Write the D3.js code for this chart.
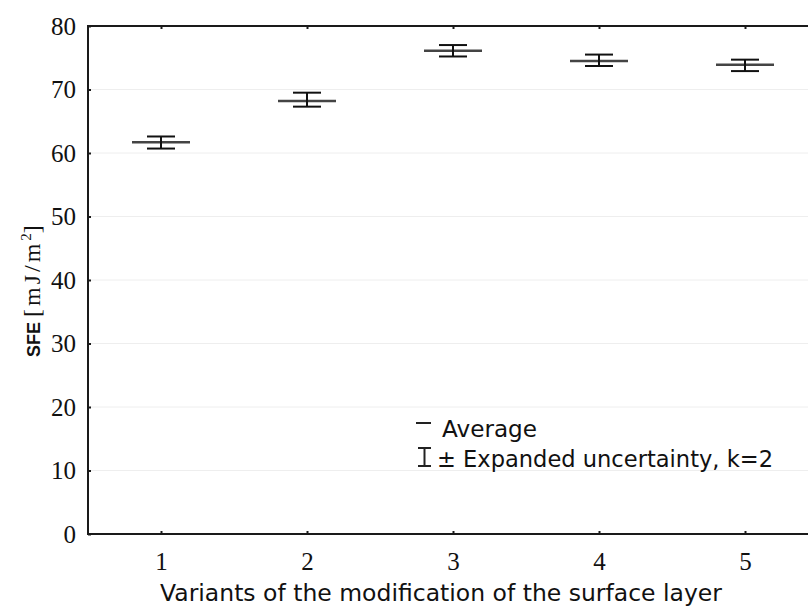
<!DOCTYPE html>
<html>
<head>
<meta charset="utf-8">
<script src="https://cdn.jsdelivr.net/npm/d3@7"></script>
<style>
  body { margin: 0; background: #fff; }
  svg { display: block; }
</style>
</head>
<body>
<div id="chart"></div>
<script>
var variants = ["1", "2", "3", "4", "5"]
var average = [61.7, 68.2, 76.1, 74.5, 73.9]
var lowerU = [60.7, 67.3, 75.2, 73.7, 72.9]
var upperU = [62.6, 69.5, 77.0, 75.5, 74.7]
var yTicks = [0, 10, 20, 30, 40, 50, 60, 70, 80]

var w = 808
var h = 607
// plot box (right edge runs past the picture, as in the original crop)
var pLeft = 88, pTop = 26, pBottom = 534, pRight = 818

var svg = d3.select('#chart').append('svg')
    .attr('width', w)
    .attr('height', h)

var x = d3.scaleLinear().domain([0.5, 5.5]).range([pLeft, pRight])
var y = d3.scaleLinear().domain([0, 80]).range([pBottom, pTop])

// light grid
svg.append('g').selectAll('line')
    .data(yTicks.filter(function(d){ return d > 0 && d < 80 }))
    .enter().append('line')
    .attr('x1', pLeft).attr('x2', pRight)
    .attr('y1', function(d){ return y(d) }).attr('y2', function(d){ return y(d) })
    .attr('stroke', '#eeeeee')
    .attr('stroke-width', 1)

// frame
svg.append('rect')
    .attr('x', pLeft).attr('y', pTop)
    .attr('width', pRight - pLeft).attr('height', pBottom - pTop)
    .attr('fill', 'none')
    .attr('stroke', '#1a1a1a')
    .attr('stroke-width', 2)

// axes (ticks inward)
var serif = '"Liberation Serif", "Times New Roman", serif'
var yAxis = d3.axisLeft(y).tickValues(yTicks).tickSizeInner(-3).tickSizeOuter(0).tickPadding(12)
var gy = svg.append('g').attr('transform', 'translate(' + pLeft + ',0)').call(yAxis)
gy.select('.domain').remove()
gy.selectAll('.tick line').attr('stroke', '#1a1a1a').attr('stroke-width', 2)
gy.selectAll('.tick text')
    .attr('font-family', serif)
    .attr('font-size', 25)
    .attr('fill', '#111')

var xAxis = d3.axisBottom(x).tickValues([1, 2, 3, 4, 5])
    .tickFormat(function(d, i){ return variants[i] })
    .tickSizeInner(-3).tickSizeOuter(0).tickPadding(18)
var gx = svg.append('g').attr('transform', 'translate(0,' + pBottom + ')').call(xAxis)
gx.select('.domain').remove()
gx.selectAll('.tick line').attr('stroke', '#1a1a1a').attr('stroke-width', 2)
gx.selectAll('.tick text')
    .attr('font-family', serif)
    .attr('font-size', 25)
    .attr('fill', '#111')

var xTop = d3.axisTop(x).tickValues([1, 2, 3, 4, 5]).tickSizeInner(-3).tickSizeOuter(0).tickFormat('')
var gt = svg.append('g').attr('transform', 'translate(0,' + pTop + ')').call(xTop)
gt.select('.domain').remove()
gt.selectAll('.tick line').attr('stroke', '#1a1a1a').attr('stroke-width', 2)

// error bars
var pts = variants.map(function(d, i){
  return {v: i + 1, m: average[i], lo: lowerU[i], hi: upperU[i]}
})
var g = svg.append('g')
g.selectAll('.mean').data(pts).enter().append('line')
    .attr('class', 'mean')
    .attr('x1', function(d){ return x(d.v) - 29 }).attr('x2', function(d){ return x(d.v) + 29 })
    .attr('y1', function(d){ return y(d.m) }).attr('y2', function(d){ return y(d.m) })
    .attr('stroke', '#444').attr('stroke-width', 2.5)
g.selectAll('.stem').data(pts).enter().append('line')
    .attr('class', 'stem')
    .attr('x1', function(d){ return x(d.v) }).attr('x2', function(d){ return x(d.v) })
    .attr('y1', function(d){ return y(d.hi) }).attr('y2', function(d){ return y(d.lo) })
    .attr('stroke', '#111').attr('stroke-width', 2)
g.selectAll('.capHi').data(pts).enter().append('line')
    .attr('class', 'capHi')
    .attr('x1', function(d){ return x(d.v) - 14 }).attr('x2', function(d){ return x(d.v) + 14 })
    .attr('y1', function(d){ return y(d.hi) }).attr('y2', function(d){ return y(d.hi) })
    .attr('stroke', '#111').attr('stroke-width', 2)
g.selectAll('.capLo').data(pts).enter().append('line')
    .attr('class', 'capLo')
    .attr('x1', function(d){ return x(d.v) - 14 }).attr('x2', function(d){ return x(d.v) + 14 })
    .attr('y1', function(d){ return y(d.lo) }).attr('y2', function(d){ return y(d.lo) })
    .attr('stroke', '#111').attr('stroke-width', 2)

// legend
var sans = '"DejaVu Sans", Verdana, sans-serif'
var lg = svg.append('g')
lg.append('line').attr('x1', 416).attr('x2', 431).attr('y1', 423).attr('y2', 423)
    .attr('stroke', '#222').attr('stroke-width', 2)
lg.append('text').attr('x', 442).attr('y', 437)
    .attr('font-family', sans).attr('font-size', 23).attr('fill', '#111')
    .attr('textLength', 95).attr('lengthAdjust', 'spacingAndGlyphs')
    .text('Average')
// small error-bar glyph
lg.append('line').attr('x1', 418).attr('x2', 431).attr('y1', 448).attr('y2', 448).attr('stroke', '#222').attr('stroke-width', 2)
lg.append('line').attr('x1', 418).attr('x2', 431).attr('y1', 466).attr('y2', 466).attr('stroke', '#222').attr('stroke-width', 2)
lg.append('line').attr('x1', 424.5).attr('x2', 424.5).attr('y1', 448).attr('y2', 466).attr('stroke', '#222').attr('stroke-width', 2)
lg.append('text').attr('x', 437).attr('y', 467)
    .attr('font-family', sans).attr('font-size', 23).attr('fill', '#111')
    .attr('textLength', 336).attr('lengthAdjust', 'spacingAndGlyphs')
    .text('\u00b1 Expanded uncertainty, k=2')

// axis titles
svg.append('text').attr('x', 160).attr('y', 601)
    .attr('font-family', sans).attr('font-size', 23).attr('fill', '#111')
    .attr('textLength', 562).attr('lengthAdjust', 'spacingAndGlyphs')
    .text('Variants of the modification of the surface layer')

var yt = svg.append('text')
    .attr('transform', 'translate(40,357) rotate(-90)')
    .attr('fill', '#111')
yt.append('tspan')
    .attr('font-family', '"Liberation Sans", Arial, sans-serif')
    .attr('font-weight', 'bold').attr('font-size', 18)
    .text('SFE ')
yt.append('tspan')
    .attr('font-family', serif)
    .attr('font-size', 24).attr('letter-spacing', 3)
    .text('[mJ/m')
yt.append('tspan')
    .attr('font-family', serif)
    .attr('font-size', 15).attr('dy', -9)
    .text('2')
yt.append('tspan')
    .attr('font-family', serif)
    .attr('font-size', 24).attr('dy', 9)
    .text(']')
</script>
</body>
</html>
